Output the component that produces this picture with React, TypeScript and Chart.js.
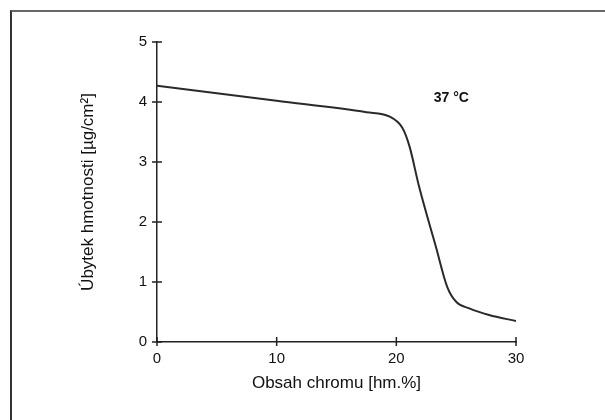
import React, { useEffect, useRef } from "react";
import { Chart, registerables } from "chart.js";

Chart.register(...registerables);

const chromium: number[] = [0, 10, 17.5, 19.4, 20.5, 21.1, 21.9, 23.3, 24.25, 25, 26.1, 27.75, 30];
const massLoss: number[] = [4.27, 4.02, 3.83, 3.76, 3.57, 3.26, 2.59, 1.59, 0.92, 0.67, 0.56, 0.45, 0.35];
const xTicks: number[] = [0, 10, 20, 30];
const yTicks: number[] = [0, 1, 2, 3, 4, 5];
const xTitle = "Obsah chromu [hm.%]";
const yTitle = "Úbytek hmotnosti [µg/cm²]";
const noteText = "37 °C";
const notePos = { x: 24.6, y: 4.07 };

const FONT = "'Liberation Sans', Arial, Helvetica, sans-serif";
const INK = "#222";

const crossTicks = {
  id: "crossTicks",
  afterDraw(chart: any) {
    const ctx = chart.ctx;
    const xs = chart.scales.x;
    const ys = chart.scales.y;
    const y0 = ys.getPixelForValue(0);
    const x0 = xs.getPixelForValue(0);
    ctx.save();
    ctx.strokeStyle = INK;
    ctx.lineWidth = 1.5;
    ctx.beginPath();
    xTicks.forEach((v) => {
      const px = xs.getPixelForValue(v);
      ctx.moveTo(px, y0 - 5);
      ctx.lineTo(px, y0 + 4);
    });
    yTicks.forEach((v) => {
      const py = ys.getPixelForValue(v);
      ctx.moveTo(x0 - 5, py);
      ctx.lineTo(x0 + 5, py);
    });
    ctx.stroke();
    ctx.fillStyle = "#111";
    ctx.font = `bold 14px ${FONT}`;
    ctx.textAlign = "center";
    ctx.textBaseline = "middle";
    ctx.fillText(noteText, xs.getPixelForValue(notePos.x), ys.getPixelForValue(notePos.y));
    ctx.restore();
  },
};

export default function App() {
  const ref = useRef<HTMLCanvasElement | null>(null);
  useEffect(() => {
    if (!ref.current) return;
    const chart = new Chart(ref.current, {
      type: "scatter",
      data: {
        datasets: [
          {
            data: chromium.map((x, i) => ({ x, y: massLoss[i] })),
            showLine: true,
            borderColor: "#2a2a2a",
            borderWidth: 2,
            pointRadius: 0,
            cubicInterpolationMode: "monotone",
            fill: false,
          },
        ],
      },
      options: {
        animation: false,
        responsive: false,
        maintainAspectRatio: false,
        devicePixelRatio: 1,
        layout: { padding: { left: 78, right: 89, top: 42, bottom: 26 } },
        plugins: { legend: { display: false }, tooltip: { enabled: false } },
        scales: {
          x: {
            type: "linear",
            min: 0,
            max: 30,
            afterBuildTicks: (s: any) => {
              s.ticks = xTicks.map((v) => ({ value: v }));
            },
            afterFit: (s: any) => {
              s.height = 52;
            },
            grid: { display: false, drawTicks: false, tickLength: 0 },
            border: { display: true, color: INK, width: 1.5 },
            ticks: { color: "#111", font: { family: FONT, size: 15 }, padding: 8, maxRotation: 0 },
            title: {
              display: true,
              text: xTitle,
              color: "#111",
              font: { family: FONT, size: 17 },
              padding: 0,
            },
          },
          y: {
            type: "linear",
            min: 0,
            max: 5,
            afterBuildTicks: (s: any) => {
              s.ticks = yTicks.map((v) => ({ value: v }));
            },
            afterFit: (s: any) => {
              s.width = 79;
            },
            grid: { display: false, drawTicks: false, tickLength: 0 },
            border: { display: true, color: INK, width: 1.5 },
            ticks: { color: "#111", font: { family: FONT, size: 15 }, padding: 10 },
            title: {
              display: true,
              text: yTitle,
              color: "#111",
              font: { family: FONT, size: 17 },
              padding: 0,
            },
          },
        },
      },
      plugins: [crossTicks],
    } as any);
    return () => chart.destroy();
  }, []);

  return (
    <div style={{ position: "fixed", left: 0, top: 0, width: 605, height: 420, background: "#fff", overflow: "hidden" }}>
      <canvas ref={ref} width={605} height={420} style={{ position: "absolute", left: 0, top: 0, width: 605, height: 420 }} />
      <div
        style={{
          position: "absolute",
          left: 10,
          top: 10,
          width: 620,
          height: 440,
          borderTop: "2px solid #666",
          borderLeft: "2px solid #333",
          pointerEvents: "none",
        }}
      />
    </div>
  );
}
